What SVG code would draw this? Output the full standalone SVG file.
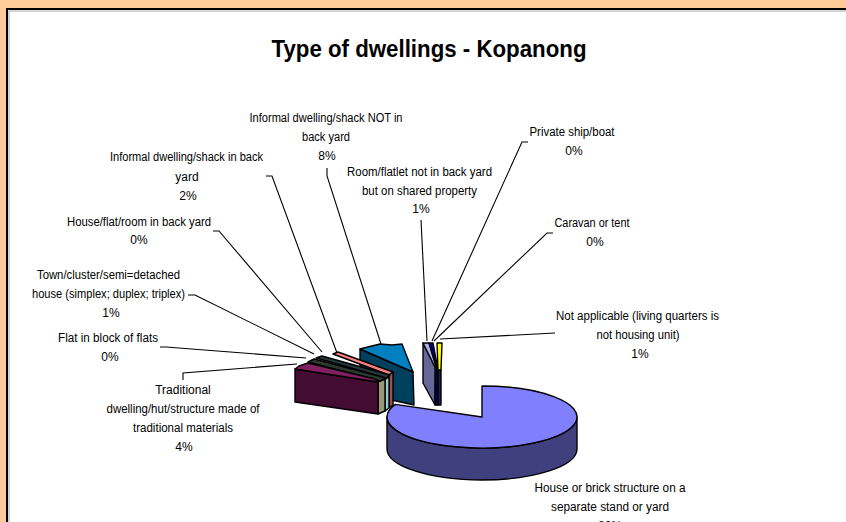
<svg xmlns="http://www.w3.org/2000/svg" width="846" height="522" viewBox="0 0 846 522">
<style>
text{font-family:"Liberation Sans",Arial,sans-serif;font-size:12px;fill:#000;text-anchor:middle}
.t{font-size:24px;font-weight:bold}
.ld{fill:none;stroke:#000;stroke-width:1.1}
.s{stroke:#000;stroke-width:1.4;stroke-linejoin:round}
</style>
<rect x="0" y="0" width="846" height="522" fill="#FFCC99"/>
<rect x="7" y="9" width="860" height="530" fill="#fff" stroke="#000" stroke-width="2"/>
<line x1="9" y1="11" x2="846" y2="11" stroke="#aaa" stroke-width="1"/>
<line x1="9" y1="11" x2="9" y2="522" stroke="#aaa" stroke-width="1"/>
<text class="t" x="429" y="57" textLength="315" lengthAdjust="spacingAndGlyphs">Type of dwellings - Kopanong</text>

<g id="connectors">
<polyline class="ld" points="183,380 183,373 297,364"/>
<polyline class="ld" points="160,347 166,347 306,358"/>
<polyline class="ld" points="188,295 195,295 314,354"/>
<polyline class="ld" points="213,231 219,231 322,352"/>
<polyline class="ld" points="266,176 272,176 337,353"/>
<polyline class="ld" points="327,168 327,176 381,344"/>
<polyline class="ld" points="421,220 427,341"/>
<polyline class="ld" points="528,142 522,142 432,341"/>
<polyline class="ld" points="553,233 547,233 434,341"/>
<polyline class="ld" points="555,333 440,339"/>
</g>

<g id="slice-house-brick">
<path class="s" fill="#40407F" d="M577,417 A95,31 0 0 1 387,417 L387,449 A95,31 0 0 0 577,449 Z"/>
<path class="s" fill="#8080FF" d="M482,417 L482,386 A95,31 0 1 1 395.2,404.4 Z"/>
<text x="610" y="492" textLength="151" lengthAdjust="spacingAndGlyphs">House or brick structure on a</text>
<text x="610" y="511" textLength="118" lengthAdjust="spacingAndGlyphs">separate stand or yard</text>
<text x="610" y="530">82%</text>
</g>

<g id="slice-informal-not-backyard">
<path class="s" fill="#00405F" d="M360,349 L413,372 L414,405 L360,393 Z"/>
<path class="s" fill="#0080C0" d="M360,349 L372,346 L380,344 L392,345 L402,344 L413,372 Z"/>
<text x="326" y="122" textLength="153" lengthAdjust="spacingAndGlyphs">Informal dwelling/shack NOT in</text>
<text x="326" y="141" textLength="48" lengthAdjust="spacingAndGlyphs">back yard</text>
<text x="327" y="160">8%</text>
</g>

<g id="slice-informal-backyard">
<path class="s" fill="#FF8080" d="M333,354 L338,352 L393,372 L389,375 Z"/>
<path class="s" fill="#A05050" d="M389,375 L393,372 L393,405 L389,408 Z"/>
<text x="186.5" y="161" textLength="153" lengthAdjust="spacingAndGlyphs">Informal dwelling/shack in back</text>
<text x="187" y="181">yard</text>
<text x="188" y="200">2%</text>
</g>

<g id="slice-house-flat-room">
<path class="s" fill="#99CCCC" d="M385,379 L389,377 L389,408 L385,411 Z"/>
<path class="s" fill="#203838" d="M316,358 L322,356 L390,375 L386,378 Z"/>
<text x="139" y="226" textLength="144" lengthAdjust="spacingAndGlyphs">House/flat/room in back yard</text>
<text x="139" y="244">0%</text>
</g>

<g id="slice-town-cluster">
<path class="s" fill="#999977" d="M378,382 L385,379 L385,411 L378,414 Z"/>
<path class="s" fill="#2A3A30" d="M308,362 L314,359 L386,378 L380,381 Z"/>
<text x="108.5" y="279" textLength="143" lengthAdjust="spacingAndGlyphs">Town/cluster/semi=detached</text>
<text x="108.5" y="298" textLength="153" lengthAdjust="spacingAndGlyphs">house (simplex; duplex; triplex)</text>
<text x="111" y="317">1%</text>
</g>

<g id="slice-flat-block">
<text x="108" y="342" textLength="100" lengthAdjust="spacingAndGlyphs">Flat in block of flats</text>
<text x="110" y="361">0%</text>
</g>

<g id="slice-traditional">
<path class="s" fill="#420D30" d="M295,369 L378,382 L378,414 L295,402 Z"/>
<path class="s" fill="#802060" d="M295,369 L299,366 L308,363 L375,379 L378,382 Z"/>
<text x="183" y="394">Traditional</text>
<text x="183" y="413" textLength="153" lengthAdjust="spacingAndGlyphs">dwelling/hut/structure made of</text>
<text x="183" y="432" textLength="100" lengthAdjust="spacingAndGlyphs">traditional materials</text>
<text x="184" y="451">4%</text>
</g>

<g id="slice-room-flatlet">
<path class="s" fill="#666699" d="M423,343 L435,367 L435,405 L423,383 Z"/>
<path class="s" fill="#B0B0F0" d="M423,343 L429,343 L436,366 L435,367 Z"/>
<text x="419.5" y="176" textLength="145" lengthAdjust="spacingAndGlyphs">Room/flatlet not in back yard</text>
<text x="419.5" y="195" textLength="115" lengthAdjust="spacingAndGlyphs">but on shared property</text>
<text x="421" y="213">1%</text>
</g>

<g id="slice-private-ship">
<path class="s" fill="#000080" d="M429,343 L433,343 L438,370 L438,405 L435,405 L436,366 Z"/>
<text x="572" y="136" textLength="85" lengthAdjust="spacingAndGlyphs">Private ship/boat</text>
<text x="574" y="155">0%</text>
</g>

<g id="slice-caravan">
<text x="592" y="227" textLength="75" lengthAdjust="spacingAndGlyphs">Caravan or tent</text>
<text x="595" y="246">0%</text>
</g>

<g id="slice-not-applicable">
<path class="s" fill="#202040" d="M438,370 L441,370 L441,405 L438,405 Z"/>
<path class="s" fill="#FFFF00" d="M437,343 L442,343 L441,370 L438,370 Z"/>
<text x="637.5" y="320" textLength="163" lengthAdjust="spacingAndGlyphs">Not applicable (living quarters is</text>
<text x="638" y="339" textLength="83" lengthAdjust="spacingAndGlyphs">not housing unit)</text>
<text x="640" y="358">1%</text>
</g>
</svg>
